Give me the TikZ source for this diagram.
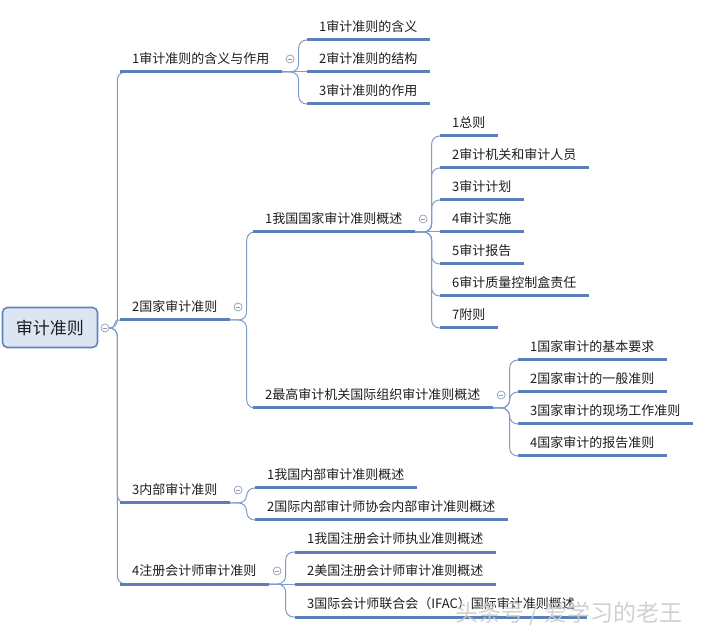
\documentclass[tikz,border=0pt]{standalone}
\usepackage{fontspec}
\setmainfont{Noto Sans CJK SC}
\usetikzlibrary{calc}
\pgfdeclarelayer{background}
\pgfsetlayers{background,main}
\definecolor{lineblue}{HTML}{5B7FB8}
\definecolor{connblue}{HTML}{7E9CC9}
\definecolor{rootfill}{HTML}{DCE6F2}
\definecolor{rootedge}{HTML}{5F85BD}
\definecolor{ccirc}{HTML}{8E9BB0}
\definecolor{txt}{HTML}{1E1E1E}
\tikzset{
  topic/.style={anchor=south west, inner xsep=12pt, inner ysep=5pt, text height=10pt, text depth=3pt,
    font=\fontsize{13}{15}\selectfont, text=txt},
  uline/.style={draw=lineblue, line width=3pt},
  conn/.style={draw=connblue, line width=1pt, rounded corners=8pt},
  connplain/.style={draw=connblue, line width=1pt},
  rootbox/.style={draw=rootedge, line width=1.6pt, fill=rootfill, rounded corners=5pt,
    minimum width=95pt, minimum height=40pt, font=\fontsize{17}{19}\selectfont, text=txt},
  collapse/.style={circle, draw=ccirc, line width=0.7pt, minimum size=8pt, inner sep=0pt, fill=white,
    path picture={\draw[ccirc, line width=0.7pt] ([xshift=-2.3pt]path picture bounding box.center) -- ([xshift=2.3pt]path picture bounding box.center);}},
  watermark/.style={font=\fontsize{23}{25}\selectfont, text=gray!40, opacity=0.9},
}
\newcommand{\mytopic}[4]{\node[topic] (#1) at (#2,#3) {#4};\draw[uline] (#1.south west) -- (#1.south east);}
\newcommand{\mylink}[3]{\begin{pgfonlayer}{background}\draw[conn] (#1) -- ++(#3,0) |- (#2.south west);\end{pgfonlayer}}
\newcommand{\mystraight}[2]{\begin{pgfonlayer}{background}\draw[connplain] (#1) -- (#2.south west);\end{pgfonlayer}}
\newcommand{\mycollapse}[1]{\node[collapse] (#1c) at ([xshift=8.5pt,yshift=13pt]#1.south east) {};}
\begin{document}
\begin{tikzpicture}[x=1pt,y=-1pt]
\useasboundingbox (0,0) rectangle (705,636);
\begin{pgfonlayer}{background}
\fill[white] (0,0) rectangle (705,636);
\end{pgfonlayer}

% root
\node[rootbox] (root) at (50,327.5) {审计准则};
\node[collapse] (rc) at (105,328) {};

% level 1
\mytopic{b1}{120}{72}{1审计准则的含义与作用}
\mytopic{b2}{120}{320}{2国家审计准则}
\mytopic{b3}{120}{503}{3内部审计准则}
\mytopic{b4}{120}{584}{4注册会计师审计准则}
\mycollapse{b1}\mycollapse{b2}\mycollapse{b3}\mycollapse{b4}

% level 2
\mytopic{c11}{307}{40}{1审计准则的含义}
\mytopic{c12}{307}{72}{2审计准则的结构}
\mytopic{c13}{307}{104}{3审计准则的作用}

\mytopic{c21}{253}{232}{1我国国家审计准则概述}
\mytopic{c22}{253}{408}{2最高审计机关国际组织审计准则概述}
\mycollapse{c21}\mycollapse{c22}

\mytopic{f1}{255}{488}{1我国内部审计准则概述}
\mytopic{f2}{255}{520}{2国际内部审计师协会内部审计准则概述}

\mytopic{g1}{295}{552}{1我国注册会计师执业准则概述}
\mytopic{g2}{295}{584}{2美国注册会计师审计准则概述}
\mytopic{g3}{295}{617}{3国际会计师联合会（IFAC）国际审计准则概述}

% level 3
\mytopic{d1}{440}{136}{1总则}
\mytopic{d2}{440}{168}{2审计机关和审计人员}
\mytopic{d3}{440}{200}{3审计计划}
\mytopic{d4}{440}{232}{4审计实施}
\mytopic{d5}{440}{264}{5审计报告}
\mytopic{d6}{440}{296}{6审计质量控制盒责任}
\mytopic{d7}{440}{328}{7附则}

\mytopic{e1}{518}{360}{1国家审计的基本要求}
\mytopic{e2}{518}{392}{2国家审计的一般准则}
\mytopic{e3}{518}{424}{3国家审计的现场工作准则}
\mytopic{e4}{518}{456}{4国家审计的报告准则}

% connectors root
\mylink{rc.east}{b1}{8}
\begin{pgfonlayer}{background}
\draw[connplain] (rc.east) .. controls +(9,0) and +(-9,0) .. (b2.south west);
\end{pgfonlayer}
\mylink{rc.east}{b3}{8}
\mylink{rc.east}{b4}{8}

% b1
\mylink{b1.south east}{c11}{17}
\mystraight{b1.south east}{c12}
\mylink{b1.south east}{c13}{17}
% b2
\mylink{b2.south east}{c21}{17}
\mylink{b2.south east}{c22}{17}
% b3
\mylink{b3.south east}{f1}{17}
\mylink{b3.south east}{f2}{17}
% b4
\mylink{b4.south east}{g1}{17}
\mystraight{b4.south east}{g2}
\mylink{b4.south east}{g3}{17}
% c21
\mylink{c21.south east}{d1}{17}
\mylink{c21.south east}{d2}{17}
\mylink{c21.south east}{d3}{17}
\mystraight{c21.south east}{d4}
\mylink{c21.south east}{d5}{17}
\mylink{c21.south east}{d6}{17}
\mylink{c21.south east}{d7}{17}
% c22
\mylink{c22.south east}{e1}{17}
\mylink{c22.south east}{e2}{17}
\mylink{c22.south east}{e3}{17}
\mylink{c22.south east}{e4}{17}

% watermark
\node[watermark] (wm) at (569,614) {头条号 / 爱学习的老王};
\end{tikzpicture}
\end{document}
